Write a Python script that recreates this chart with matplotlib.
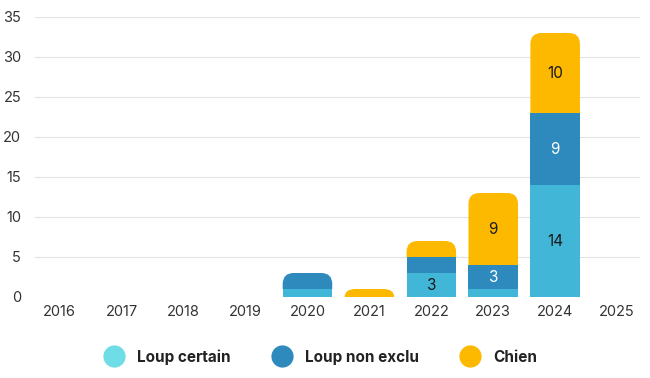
import numpy as np
import matplotlib.pyplot as plt
from matplotlib.path import Path
from matplotlib.patches import PathPatch, Rectangle
from matplotlib.lines import Line2D

plt.rcParams['font.family'] = ['Inter', 'DejaVu Sans']

years = ['2016', '2017', '2018', '2019', '2020', '2021', '2022', '2023', '2024', '2025']
loup_certain = [0, 0, 0, 0, 1, 0, 3, 1, 14, 0]
loup_non_exclu = [0, 0, 0, 0, 2, 0, 2, 3, 9, 0]
chien = [0, 0, 0, 0, 0, 1, 2, 9, 10, 0]

series = [
    ('Loup certain', loup_certain, '#42b6d7', '#6fdde6', '#1a1a1a'),
    ('Loup non exclu', loup_non_exclu, '#2e8abd', '#2e8abd', 'white'),
    ('Chien', chien, '#fdb900', '#fdb900', '#1a1a1a'),
]
shown_labels = {(0, 6), (1, 7), (2, 7), (0, 8), (1, 8), (2, 8)}

fig = plt.figure(figsize=(6.5, 3.78), dpi=100)
ax = fig.add_axes([35 / 650, 1 - 297 / 378, 605 / 650, 280 / 378])

x = np.arange(len(years))
width = 0.8
px_x = 605 / 9.77
px_y = 280 / 35.0
rad = 11


def top_path(x0, y0, w, h):
    rx = min(rad / px_x, w / 2)
    ry = min(rad / px_y, h)
    verts = [(x0, y0), (x0 + w, y0), (x0 + w, y0 + h - ry),
             (x0 + w, y0 + h), (x0 + w - rx, y0 + h),
             (x0 + rx, y0 + h),
             (x0, y0 + h), (x0, y0 + h - ry),
             (x0, y0)]
    codes = [Path.MOVETO, Path.LINETO, Path.LINETO,
             Path.CURVE3, Path.CURVE3,
             Path.LINETO,
             Path.CURVE3, Path.CURVE3,
             Path.CLOSEPOLY]
    return Path(verts, codes)


bottom = np.zeros(len(years))
totals = np.array(loup_certain) + np.array(loup_non_exclu) + np.array(chien)
for si, (name, vals, col, _, tcol) in enumerate(series):
    for i, v in enumerate(vals):
        if v == 0:
            continue
        x0 = x[i] - width / 2
        is_top = bottom[i] + v == totals[i]
        if is_top:
            ax.add_patch(PathPatch(top_path(x0, bottom[i], width, v), facecolor=col,
                                   edgecolor='none', zorder=3))
        else:
            ax.add_patch(Rectangle((x0, bottom[i]), width, v, facecolor=col,
                                   edgecolor='none', zorder=3))
        if (si, i) in shown_labels:
            ax.text(x[i], bottom[i] + v / 2, str(v), ha='center', va='center',
                    fontsize=11, color=tcol, zorder=4)
    bottom += np.array(vals)

ax.set_xlim(-0.4, 9.37)
ax.set_ylim(0, 35)
ax.set_yticks(range(0, 36, 5))
ax.set_xticks(x)
ax.set_xticklabels(years)
ax.grid(axis='y', color='#e2e2e2', linewidth=0.8, zorder=0)
for s in ax.spines.values():
    s.set_visible(False)
ax.tick_params(length=0, labelsize=10.5, labelcolor='#333333')
ax.tick_params(axis='y', pad=10)
ax.tick_params(axis='x', pad=6)

handles = [Line2D([], [], linestyle='none', marker='o', markersize=16,
                  markerfacecolor=lc, markeredgecolor='none', label=name)
           for name, _, _, lc, _ in series]
fig.legend(handles=handles, loc='center', bbox_to_anchor=(318 / 650, 1 - 357 / 378), ncol=3,
           frameon=False, prop={'weight': 'bold', 'size': 11}, handletextpad=0.5,
           columnspacing=2.35, labelcolor='#222222')

fig.savefig('out.png', dpi=100, facecolor='white')
